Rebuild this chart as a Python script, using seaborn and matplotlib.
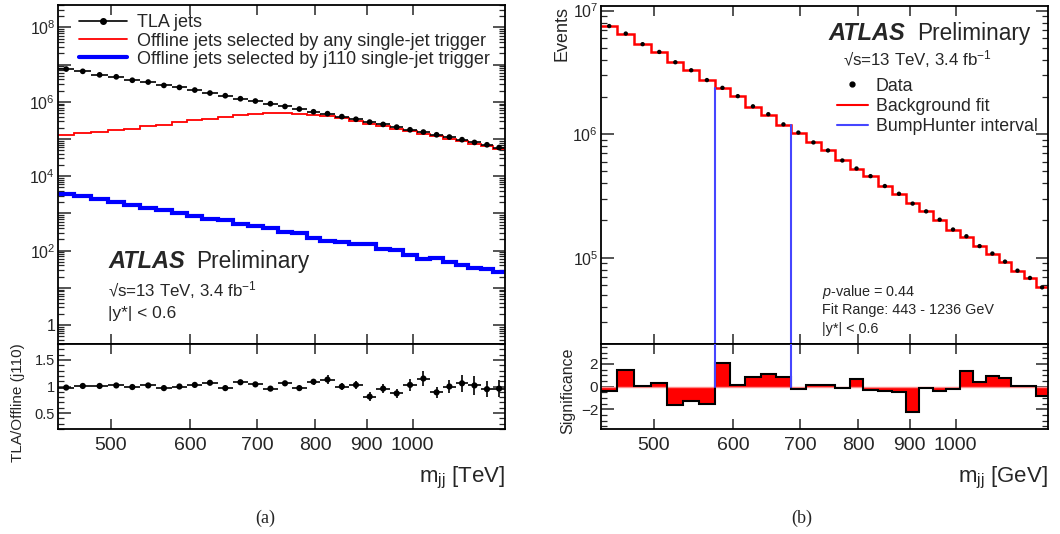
import numpy as np
import matplotlib
matplotlib.use("Agg")
import matplotlib.pyplot as plt
import matplotlib.ticker as mticker
from matplotlib.lines import Line2D
import seaborn as sns

# ---------------- data ----------------
bin_edges = [443, 460, 478, 497, 516, 535, 555, 575, 596, 617, 639, 662, 685, 709,
             734, 758, 784, 809, 836, 864, 892, 920, 949, 979, 1009, 1041, 1072,
             1104, 1136, 1169, 1203, 1236]

tla_jets = [7.6e6, 6.6e6, 5.3e6, 4.7e6, 3.8e6, 3.4e6, 2.76e6, 2.44e6, 2.07e6, 1.72e6,
            1.46e6, 1.21e6, 1.05e6, 8.9e5, 7.5e5, 6.4e5, 5.4e5, 4.8e5, 4.0e5, 3.4e5,
            2.85e5, 2.47e5, 2.09e5, 1.77e5, 1.54e5, 1.30e5, 1.13e5, 9.6e4, 8.1e4,
            7.0e4, 5.9e4]

offline_any = [1.31e5, 1.42e5, 1.51e5, 1.71e5, 1.89e5, 2.18e5, 2.42e5, 2.79e5, 3.16e5,
               3.51e5, 3.89e5, 4.31e5, 4.68e5, 5.07e5, 5.0e5, 4.7e5, 4.4e5, 4.07e5,
               3.6e5, 3.1e5, 2.6e5, 2.25e5, 1.9e5, 1.6e5, 1.4e5, 1.18e5, 1.02e5,
               8.7e4, 7.4e4, 6.4e4, 5.3e4]

offline_j110 = [3380, 2920, 2380, 2010, 1710, 1430, 1230, 1050, 871, 692, 652, 509,
                450, 398, 325, 292, 224, 182, 171, 148, 155, 110, 105, 75, 58, 63,
                50, 41, 35, 32, 27.5]

ratio_j110 = [0.98, 1.01, 1.01, 1.02, 0.99, 1.02, 0.97, 1.00, 1.03, 1.07, 0.97, 1.08,
              1.04, 0.96, 1.06, 0.97, 1.09, 1.13, 1.00, 1.03, 0.81, 0.96, 0.87, 1.03,
              1.15, 0.89, 1.00, 1.06, 1.02, 0.95, 0.96]
ratio_err = [0.015, 0.015, 0.015, 0.02, 0.02, 0.02, 0.02, 0.02, 0.025, 0.025, 0.03,
             0.03, 0.03, 0.035, 0.04, 0.045, 0.06, 0.08, 0.07, 0.07, 0.08, 0.08, 0.09,
             0.11, 0.14, 0.11, 0.13, 0.16, 0.18, 0.15, 0.16]

data_events = [7.5e6, 6.52e6, 5.35e6, 4.63e6, 3.82e6, 3.29e6, 2.74e6, 2.37e6, 2.03e6,
               1.68e6, 1.45e6, 1.20e6, 1.03e6, 8.57e5, 7.38e5, 6.12e5, 5.27e5, 4.57e5,
               3.80e5, 3.29e5, 2.74e5, 2.37e5, 2.03e5, 1.69e5, 1.49e5, 1.24e5, 1.08e5,
               9.29e4, 7.85e4, 6.85e4, 5.75e4]

bkg_fit = [7.51e6, 6.48e6, 5.35e6, 4.62e6, 3.84e6, 3.31e6, 2.76e6, 2.36e6, 2.03e6,
           1.67e6, 1.44e6, 1.19e6, 1.03e6, 8.57e5, 7.38e5, 6.13e5, 5.26e5, 4.57e5,
           3.80e5, 3.29e5, 2.75e5, 2.37e5, 2.03e5, 1.69e5, 1.48e5, 1.24e5, 1.07e5,
           9.26e4, 7.85e4, 6.85e4, 5.77e4]

significance = [-0.38, 1.47, 0.02, 0.29, -1.62, -1.32, -1.56, 2.03, 0.12, 0.88, 1.09,
                0.88, -0.21, 0.09, 0.09, -0.15, 0.68, -0.29, -0.44, -0.50, -2.24,
                -0.15, -0.41, -0.21, 1.41, 0.38, 0.94, 0.79, 0.06, 0.03, -0.88]

bump_first_bin, bump_last_bin = 7, 11   # BumpHunter interval 575 - 685 GeV

xtick_values = [500, 600, 700, 800, 900, 1000]
xtick_labels = ["500", "600", "700", "800", "900", "1000"]

# ---------------- style ----------------
sns.set_style("ticks")
plt.rcParams["font.family"] = ["Liberation Sans", "DejaVu Sans"]
plt.rcParams["mathtext.fontset"] = "custom"
plt.rcParams["mathtext.rm"] = "Liberation Sans"
plt.rcParams["mathtext.it"] = "Liberation Sans:italic"
plt.rcParams["mathtext.bf"] = "Liberation Sans:bold"
plt.rcParams["axes.linewidth"] = 1.3
plt.rcParams["axes.edgecolor"] = "black"

edges = np.array(bin_edges, dtype=float)
centers = np.sqrt(edges[:-1] * edges[1:])
xerr = np.vstack([centers - edges[:-1], edges[1:] - centers])

W, H = 1060, 534
fig = plt.figure(figsize=(W / 100, H / 100), dpi=100)


def frac(x0, y0, x1, y1):
    return [x0 / W, 1 - y1 / H, (x1 - x0) / W, (y1 - y0) / H]


axL = fig.add_axes(frac(58, 5, 505, 344))
axLr = fig.add_axes(frac(58, 344, 505, 429))
axR = fig.add_axes(frac(601, 6, 1048, 344))
axRr = fig.add_axes(frac(601, 344, 1048, 429))


def style_x(ax, labels):
    ax.set_xscale("log")
    ax.set_xlim(edges[0], edges[-1])
    ax.set_xticks(xtick_values)
    ax.xaxis.set_minor_locator(mticker.NullLocator())
    ax.xaxis.set_minor_formatter(mticker.NullFormatter())
    if labels:
        ax.set_xticklabels(xtick_labels, fontsize=14)
    else:
        ax.set_xticklabels([])
    ax.tick_params(axis="both", which="both", direction="in", top=True, right=True)
    ax.tick_params(axis="x", which="major", length=7, width=1.1, pad=6)
    ax.tick_params(axis="y", which="major", length=9, width=1.1, pad=2)
    ax.tick_params(axis="y", which="minor", length=4.5, width=0.9)


def log_label(v, pos):
    e = int(round(np.log10(v)))
    if e == 0:
        return "1"
    return r"$10^{%d}$" % e


# ---------------- left main ----------------
style_x(axL, False)
axL.set_yscale("log")
axL.set_ylim(0.31, 4e8)
axL.yaxis.set_major_locator(mticker.FixedLocator([10.0 ** e for e in range(0, 9)]))
axL.yaxis.set_major_formatter(mticker.FuncFormatter(
    lambda v, p: log_label(v, p) if int(round(np.log10(v))) % 2 == 0 else ""))
axL.yaxis.set_minor_locator(mticker.LogLocator(base=10, subs=np.arange(2, 10), numticks=30))
axL.yaxis.set_minor_formatter(mticker.NullFormatter())
axL.tick_params(axis="y", labelsize=11.5)

axL.stairs(offline_any, edges, color="#ff0000", lw=1.3, baseline=None)
axL.stairs(offline_j110, edges, color="#0000ff", lw=3.0, baseline=None)
axL.errorbar(centers, tla_jets, xerr=xerr, fmt="none", ecolor="black", elinewidth=1.2)
sns.scatterplot(x=centers, y=tla_jets, ax=axL, color="black", s=17, edgecolor="none",
                zorder=5, legend=False)

handles = [Line2D([], [], color="black", lw=1.2, marker="o", markersize=4),
           Line2D([], [], color="#ff0000", lw=1.3),
           Line2D([], [], color="#0000ff", lw=3.0)]
labels = ["TLA jets", "Offline jets selected by any single-jet trigger",
          "Offline jets selected by j110 single-jet trigger"]
axL.legend(handles, labels, loc="upper left", bbox_to_anchor=(0.047, 0.972),
           frameon=False, fontsize=13, handlelength=2.67, handletextpad=0.55,
           labelspacing=0.06, borderpad=0, borderaxespad=0)

axL.text(0.112, 0.223, "ATLAS", transform=axL.transAxes, fontsize=17,
         fontweight="bold", fontstyle="italic", va="baseline")
axL.text(0.309, 0.223, "Preliminary", transform=axL.transAxes, fontsize=16.3,
         va="baseline")
axL.text(0.112, 0.14, "√s=13 TeV, 3.4 fb$^{-1}$", transform=axL.transAxes,
         fontsize=12.2, va="baseline")
axL.text(0.112, 0.076, "|y*| < 0.6", transform=axL.transAxes, fontsize=12.5,
         va="baseline")

# ---------------- left ratio ----------------
style_x(axLr, True)
axLr.set_ylim(0.2, 1.8)
axLr.yaxis.set_major_locator(mticker.FixedLocator([0.5, 1.0, 1.5]))
axLr.yaxis.set_major_formatter(mticker.FormatStrFormatter("%g"))
axLr.yaxis.set_minor_locator(mticker.MultipleLocator(0.1))
axLr.tick_params(axis="y", labelsize=10.5)
axLr.errorbar(centers, ratio_j110, xerr=xerr, yerr=ratio_err, fmt="none",
              ecolor="black", elinewidth=1.2)
sns.scatterplot(x=centers, y=ratio_j110, ax=axLr, color="black", s=20,
                edgecolor="none", zorder=5, legend=False)
axLr.set_xlabel(r"m$_{\mathrm{jj}}$ [TeV]", fontsize=16, ha="right")
axLr.xaxis.set_label_coords(1.0, -0.42)
axLr.xaxis.label.set_va("top")
fig.text(18 / W, 1 - 343 / H, "TLA/Offline (j110)", rotation=90, ha="center",
         va="top", fontsize=11)

# ---------------- right main ----------------
style_x(axR, False)
axR.set_yscale("log")
axR.set_ylim(2.0e4, 1.09e7)
axR.yaxis.set_major_locator(mticker.FixedLocator([1e5, 1e6, 1e7]))
axR.yaxis.set_major_formatter(mticker.FuncFormatter(log_label))
axR.yaxis.set_minor_locator(mticker.LogLocator(base=10, subs=np.arange(2, 10), numticks=30))
axR.yaxis.set_minor_formatter(mticker.NullFormatter())
axR.tick_params(axis="y", labelsize=11.5)

axR.stairs(bkg_fit, edges, color="#ff0000", lw=1.8, baseline=None)
ylo = axR.get_ylim()[0]
axR.plot([edges[bump_first_bin]] * 2, [ylo, bkg_fit[bump_first_bin]], color="#4646ff", lw=1.5)
axR.plot([edges[bump_last_bin + 1]] * 2, [ylo, bkg_fit[bump_last_bin]], color="#4646ff", lw=1.5)
sns.scatterplot(x=centers, y=data_events, ax=axR, color="black", s=10,
                edgecolor="none", zorder=5, legend=False)

handlesR = [Line2D([], [], color="black", lw=0, marker="o", markersize=3.5),
            Line2D([], [], color="#ff0000", lw=1.5),
            Line2D([], [], color="#4646ff", lw=1.5)]
labelsR = ["Data", "Background fit", "BumpHunter interval"]
axR.legend(handlesR, labelsR, loc="upper left", bbox_to_anchor=(0.528, 0.788),
           frameon=False, fontsize=12.8, handlelength=1.74, handletextpad=0.45,
           labelspacing=0.19, borderpad=0, borderaxespad=0)

axR.text(0.508, 0.899, "ATLAS", transform=axR.transAxes, fontsize=17,
         fontweight="bold", fontstyle="italic", va="baseline")
axR.text(0.707, 0.899, "Preliminary", transform=axR.transAxes, fontsize=16.3,
         va="baseline")
axR.text(0.541, 0.823, "√s=13 TeV, 3.4 fb$^{-1}$", transform=axR.transAxes,
         fontsize=12.2, va="baseline")
axR.text(0.494, 0.142, "$p$-value = 0.44", transform=axR.transAxes, fontsize=10.4,
         va="baseline")
axR.text(0.494, 0.088, "Fit Range: 443 - 1236 GeV", transform=axR.transAxes,
         fontsize=10.4, va="baseline")
axR.text(0.494, 0.033, "|y*| < 0.6", transform=axR.transAxes, fontsize=10.4,
         va="baseline")
fig.text(562 / W, 1 - 6 / H, "Events", rotation=90, ha="center", va="top", fontsize=13)

# ---------------- right ratio ----------------
style_x(axRr, True)
axRr.set_ylim(-3.75, 3.75)
axRr.yaxis.set_major_locator(mticker.FixedLocator([-2, 0, 2]))
axRr.yaxis.set_major_formatter(mticker.FuncFormatter(lambda v, p: "%d" % v if v >= 0 else "\u22122"))
axRr.yaxis.set_minor_locator(mticker.MultipleLocator(0.5))
axRr.tick_params(axis="y", labelsize=11)
axRr.stairs(significance, edges, fill=True, color="#ff0000", baseline=0, lw=0)
axRr.axhline(0, color="#ff8a8a", lw=1.0, zorder=2)
axRr.stairs(significance, edges, color="black", lw=1.5, baseline=None, zorder=3)
axRr.plot([edges[bump_first_bin]] * 2, [0, 3.75], color="#4646ff", lw=1.5, zorder=4)
axRr.plot([edges[bump_last_bin + 1]] * 2, [0, 3.75], color="#4646ff", lw=1.5, zorder=4)
axRr.set_xlabel(r"m$_{\mathrm{jj}}$ [GeV]", fontsize=16, ha="right")
axRr.xaxis.set_label_coords(1.0, -0.42)
axRr.xaxis.label.set_va("top")
fig.text(568 / W, 1 - 348 / H, "Significance", rotation=90, ha="center", va="top",
         fontsize=11.5)

# captions
fig.text(265 / W, 1 - 518 / H, "(a)", ha="center", va="center", fontsize=13,
         family="Liberation Serif")
fig.text(802 / W, 1 - 518 / H, "(b)", ha="center", va="center", fontsize=13,
         family="Liberation Serif")

fig.savefig("out.png", dpi=100)
